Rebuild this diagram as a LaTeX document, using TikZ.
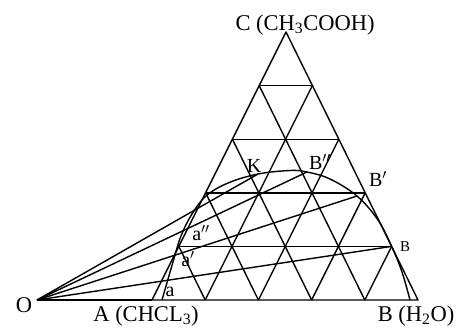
\documentclass[tikz,border=0pt]{standalone}
\usepackage{fontspec}
\setmainfont{Liberation Serif}
\usetikzlibrary{calc}
\begin{document}
\begin{tikzpicture}[x=1pt,y=-1pt,
  gridline/.style={line width=1.4pt,line join=round},
  tieline/.style={line width=1.4pt},
  bigtext/.style={font=\fontsize{22.5}{24}\selectfont,inner sep=0pt},
  smalltext/.style={font=\fontsize{20}{22}\selectfont,inner sep=0pt},
  tinytext/.style={font=\fontsize{15}{17}\selectfont,inner sep=0pt}]
\useasboundingbox (0,0) rectangle (457,332);
% vertices
\coordinate (A) at (152,300);
\coordinate (Bv) at (418,300);
\coordinate (C) at (286,32);
\coordinate (O) at (37,300);
% triangle outline and grid
\draw[gridline] (A) -- (Bv) -- (C) -- cycle;
\foreach \k in {1,2,3,4}{
  \draw[gridline] ($(A)!\k/5!(C)$) -- ($(Bv)!\k/5!(C)$);
  \draw[gridline] ($(A)!\k/5!(Bv)$) -- ($(A)!\k/5!(C)$);
  \draw[gridline] ($(Bv)!\k/5!(A)$) -- ($(Bv)!\k/5!(C)$);
}
% baseline from O
\draw[tieline] (O) -- (A);
% binodal curve points
\coordinate (K) at (258,174);
\coordinate (B2) at (307,172);
\coordinate (B1) at (357,196);
\coordinate (Bp) at ($(Bv)!1/5!(C)$);
\draw[line width=1.4pt] plot[smooth,tension=0.6] coordinates {
  (162,300) (173,262) (181,236) (192,214) (206,196) (228,183) (258,174)
  (290,170.5) (307,172) (330,179) (357,196) (378,220) (391.6,246.4)
  (402,272) (410,300)};
% tie lines
\draw[tieline] (O) -- (Bp);
\draw[tieline] (O) -- (B1);
\draw[tieline] (O) -- (B2);
\draw[tieline] (O) -- (K);
% labels
\node[bigtext,anchor=base] (lC) at (305,30) {C (CH\textsubscript{3}COOH)};
\node[bigtext,anchor=base] (lA) at (146,321) {A (CHCL\textsubscript{3})};
\node[bigtext,anchor=base] (lB) at (416,321) {B (H\textsubscript{2}O)};
\node[bigtext] (lO) at (24,305) {O};
\node[smalltext] (lK) at (254,166) {K};
\node[smalltext] (lB2) at (320,162) {B$^{\prime\prime}$};
\node[smalltext] (lB1) at (378,179) {B$^{\prime}$};
\node[tinytext] (lB0) at (405,247) {B};
\node[smalltext] (la) at (170,292) {a};
\node[smalltext] (la1) at (188,259) {a$^{\prime}$};
\node[smalltext] (la2) at (201,233) {a$^{\prime\prime}$};
\end{tikzpicture}
\end{document}
